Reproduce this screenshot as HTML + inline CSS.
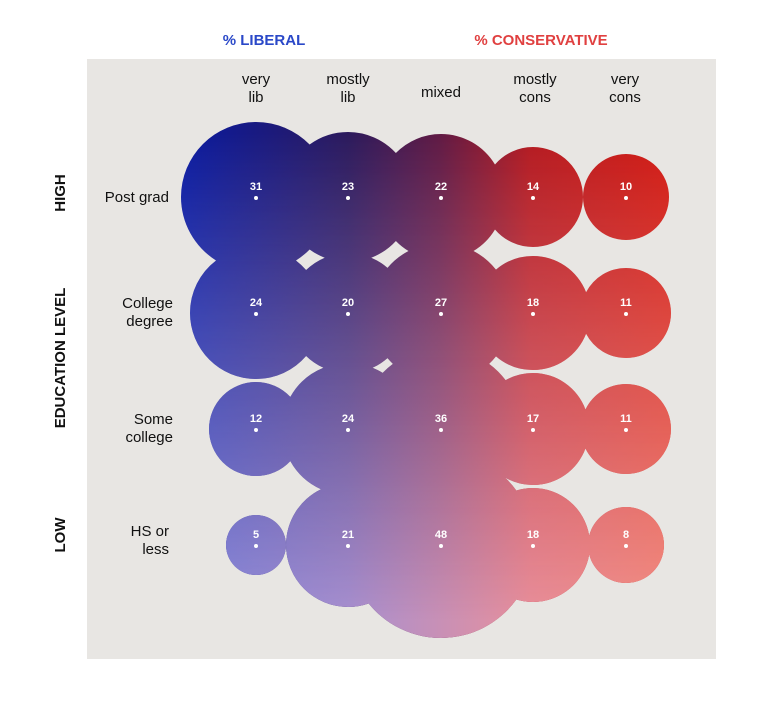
<!DOCTYPE html>
<html><head><meta charset="utf-8"><style>
html,body{margin:0;padding:0;background:#fff;}
svg{display:block;font-family:"Liberation Sans",sans-serif;}
</style></head><body>
<svg width="770" height="703" viewBox="0 0 770 703">
<defs>
<linearGradient id="top" gradientUnits="userSpaceOnUse" x1="185" y1="0" x2="665" y2="0">
<stop offset="0" stop-color="#0a1a9e"/>
<stop offset="0.34" stop-color="#2c1a5c"/>
<stop offset="0.53" stop-color="#601a44"/>
<stop offset="0.72" stop-color="#b41a20"/>
<stop offset="1" stop-color="#d01a14"/>
</linearGradient>
<linearGradient id="bot" gradientUnits="userSpaceOnUse" x1="185" y1="0" x2="665" y2="0">
<stop offset="0" stop-color="#8a8cdc"/>
<stop offset="0.34" stop-color="#a890d0"/>
<stop offset="0.53" stop-color="#c890b6"/>
<stop offset="0.72" stop-color="#e8909c"/>
<stop offset="1" stop-color="#f29086"/>
</linearGradient>
<linearGradient id="vm" gradientUnits="userSpaceOnUse" x1="0" y1="130" x2="0" y2="620">
<stop offset="0" stop-color="#000"/>
<stop offset="1" stop-color="#fff"/>
</linearGradient>
<mask id="m"><rect x="0" y="0" width="770" height="703" fill="url(#vm)"/></mask>
<clipPath id="c">
<circle cx="256" cy="197" r="75"/><circle cx="348" cy="197" r="65"/><circle cx="441" cy="197" r="63"/><circle cx="533" cy="197" r="50"/><circle cx="626" cy="197" r="43"/>
<circle cx="256" cy="313" r="66"/><circle cx="348" cy="313" r="60"/><circle cx="441" cy="313" r="70"/><circle cx="533" cy="313" r="57"/><circle cx="626" cy="313" r="45"/>
<circle cx="256" cy="429" r="47"/><circle cx="348" cy="429" r="66"/><circle cx="441" cy="429" r="81"/><circle cx="533" cy="429" r="56"/><circle cx="626" cy="429" r="45"/>
<circle cx="256" cy="545" r="30"/><circle cx="348" cy="545" r="62"/><circle cx="441" cy="545" r="93"/><circle cx="533" cy="545" r="57"/><circle cx="626" cy="545" r="38"/>
</clipPath>
</defs>
<rect x="87" y="59" width="629" height="600" fill="#e8e6e3"/>
<g clip-path="url(#c)">
<rect x="150" y="100" width="560" height="560" fill="url(#top)"/>
<rect x="150" y="100" width="560" height="560" fill="url(#bot)" mask="url(#m)"/>
</g>
<text x="264" y="45" font-size="15" font-weight="bold" fill="#2a48c8" text-anchor="middle">% LIBERAL</text>
<text x="541" y="45" font-size="15" font-weight="bold" fill="#e04040" text-anchor="middle">% CONSERVATIVE</text>
<g font-size="15" fill="#111" text-anchor="middle">
<text x="256" y="84">very</text><text x="256" y="102">lib</text>
<text x="348" y="84">mostly</text><text x="348" y="102">lib</text>
<text x="441" y="97">mixed</text>
<text x="535" y="84">mostly</text><text x="535" y="102">cons</text>
<text x="625" y="84">very</text><text x="625" y="102">cons</text>
</g>
<g font-size="15" fill="#111" text-anchor="end">
<text x="169" y="202">Post grad</text>
<text x="173" y="308">College</text><text x="173" y="326">degree</text>
<text x="173" y="424">Some</text><text x="173" y="442">college</text>
<text x="169" y="536">HS or</text><text x="169" y="554">less</text>
</g>
<g font-size="15" font-weight="bold" fill="#111" text-anchor="middle">
<text transform="translate(65,193) rotate(-90)">HIGH</text>
<text transform="translate(65,358) rotate(-90)">EDUCATION  LEVEL</text>
<text transform="translate(65,535) rotate(-90)">LOW</text>
</g>
<g font-size="11" font-weight="bold" fill="#fff" text-anchor="middle">
<text x="256" y="190">31</text><text x="348" y="190">23</text><text x="441" y="190">22</text><text x="533" y="190">14</text><text x="626" y="190">10</text>
<text x="256" y="306">24</text><text x="348" y="306">20</text><text x="441" y="306">27</text><text x="533" y="306">18</text><text x="626" y="306">11</text>
<text x="256" y="422">12</text><text x="348" y="422">24</text><text x="441" y="422">36</text><text x="533" y="422">17</text><text x="626" y="422">11</text>
<text x="256" y="538">5</text><text x="348" y="538">21</text><text x="441" y="538">48</text><text x="533" y="538">18</text><text x="626" y="538">8</text>
</g>
<g fill="#fff">
<circle cx="256" cy="198" r="2"/><circle cx="348" cy="198" r="2"/><circle cx="441" cy="198" r="2"/><circle cx="533" cy="198" r="2"/><circle cx="626" cy="198" r="2"/>
<circle cx="256" cy="314" r="2"/><circle cx="348" cy="314" r="2"/><circle cx="441" cy="314" r="2"/><circle cx="533" cy="314" r="2"/><circle cx="626" cy="314" r="2"/>
<circle cx="256" cy="430" r="2"/><circle cx="348" cy="430" r="2"/><circle cx="441" cy="430" r="2"/><circle cx="533" cy="430" r="2"/><circle cx="626" cy="430" r="2"/>
<circle cx="256" cy="546" r="2"/><circle cx="348" cy="546" r="2"/><circle cx="441" cy="546" r="2"/><circle cx="533" cy="546" r="2"/><circle cx="626" cy="546" r="2"/>
</g>
</svg>
</body></html>
